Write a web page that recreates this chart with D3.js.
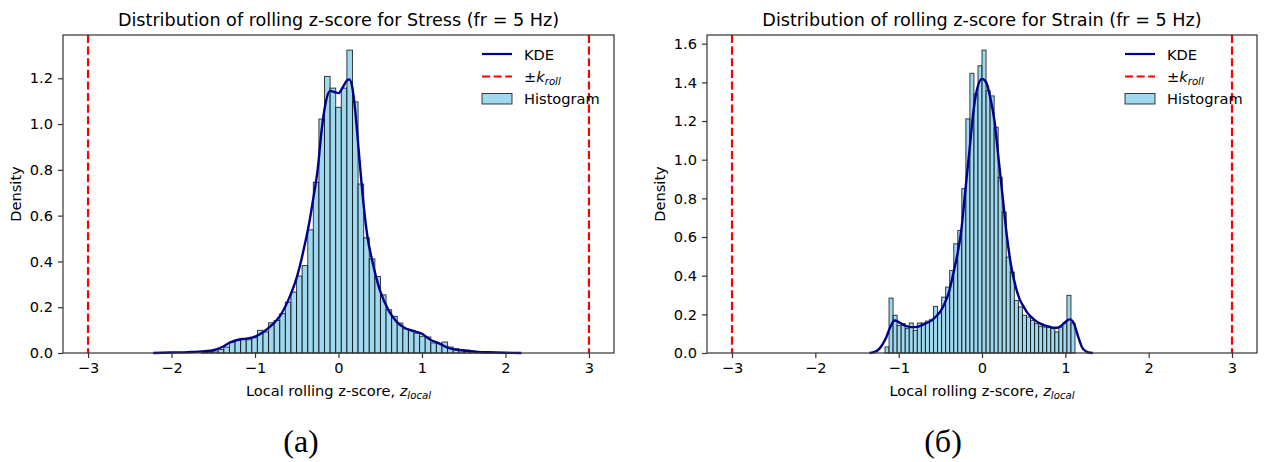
<!DOCTYPE html>
<html>
<head>
<meta charset="utf-8">
<script src="https://cdn.jsdelivr.net/npm/d3@7"></script>
<style>
  html, body { margin: 0; padding: 0; background: #fff; }
  svg { display: block; }
  text { font-family: "DejaVu Sans", sans-serif; fill: #000; }
  text.sub { font-family: "Liberation Serif", "Times New Roman", serif; }
</style>
</head>
<body>
<svg id="chart" width="1265" height="462"></svg>
<script>
// ---------------- DATA ----------------
const xTicks = [-3, -2, -1, 0, 1, 2, 3];
const kRoll = [-3, 3];

// Stress panel
const stressTitle = "Distribution of rolling z-score for Stress (fr = 5 Hz)";
const stressBinStart = -1.6415;
const stressBinWidth = 0.067;
const stressHist = [0.003,0.005,0.009,0.015,0.026,0.048,0.055,0.062,0.058,0.067,0.099,0.092,0.132,0.142,0.172,0.222,0.266,0.336,0.382,0.538,0.746,1.022,1.208,1.157,1.073,1.157,1.323,1.097,0.738,0.503,0.411,0.334,0.254,0.189,0.160,0.131,0.106,0.099,0.087,0.073,0.070,0.044,0.041,0.048,0.026,0.019,0.015,0.012,0.009,0.006,0.004,0.002];
const stressKdeX = [-2.22,-2.0,-1.8,-1.6,-1.5,-1.4,-1.3,-1.2,-1.1,-1.0,-0.9,-0.8,-0.7,-0.6,-0.5,-0.4,-0.35,-0.3,-0.25,-0.2,-0.15,-0.1,-0.05,0.0,0.05,0.1,0.13,0.17,0.2,0.25,0.3,0.35,0.4,0.5,0.6,0.7,0.8,0.9,1.0,1.1,1.2,1.3,1.4,1.5,1.6,1.8,2.0,2.19];
const stressKdeY = [0.0,0.002,0.004,0.008,0.012,0.025,0.046,0.058,0.063,0.072,0.092,0.122,0.162,0.232,0.33,0.48,0.57,0.68,0.8,0.98,1.10,1.145,1.14,1.135,1.16,1.19,1.195,1.15,1.06,0.85,0.65,0.5,0.41,0.27,0.186,0.135,0.108,0.096,0.084,0.058,0.043,0.025,0.015,0.011,0.007,0.003,0.001,0.0];
const stressYMax = 1.389;
const stressYTicks = [0.0,0.2,0.4,0.6,0.8,1.0,1.2];

// Strain panel
const strainTitle = "Distribution of rolling z-score for Strain (fr = 5 Hz)";
const strainBinStart = -1.164;
const strainBinEnd = 1.116;
const strainHist = [0.031,0.284,0.195,0.143,0.152,0.126,0.155,0.117,0.155,0.155,0.165,0.172,0.241,0.207,0.289,0.341,0.427,0.565,0.634,0.85,1.211,1.447,1.34,1.486,1.567,1.357,1.33,1.168,0.909,0.729,0.496,0.418,0.272,0.238,0.195,0.186,0.169,0.152,0.138,0.134,0.134,0.126,0.109,0.134,0.155,0.298,0.155];
const strainKdeX = [-1.35,-1.3,-1.25,-1.2,-1.15,-1.1,-1.05,-1.0,-0.95,-0.9,-0.85,-0.8,-0.75,-0.7,-0.65,-0.6,-0.55,-0.5,-0.45,-0.4,-0.35,-0.3,-0.25,-0.2,-0.15,-0.1,-0.05,0.0,0.05,0.1,0.15,0.2,0.25,0.3,0.35,0.4,0.45,0.5,0.55,0.6,0.65,0.7,0.75,0.8,0.85,0.9,0.95,1.0,1.05,1.08,1.1,1.15,1.2,1.25,1.3,1.33];
const strainKdeY = [0.0,0.004,0.014,0.04,0.08,0.135,0.168,0.16,0.147,0.138,0.134,0.134,0.139,0.148,0.158,0.17,0.19,0.215,0.255,0.31,0.40,0.5,0.63,0.84,1.05,1.26,1.38,1.418,1.40,1.32,1.2,1.0,0.8,0.6,0.45,0.35,0.28,0.24,0.205,0.183,0.165,0.152,0.143,0.137,0.131,0.131,0.141,0.16,0.174,0.168,0.155,0.09,0.03,0.008,0.001,0.0];
const strainYMax = 1.645;
const strainYTicks = [0.0,0.2,0.4,0.6,0.8,1.0,1.2,1.4,1.6];

const subLabels = ["(a)", "(б)"];

// ---------------- DRAW ----------------
const svg = d3.select("#chart");
const fmtX = d3.format("d");
const fmtY = d3.format(".1f");

function buildBins(start, width, heights) {
  return heights.map((h, i) => ({x0: start + i * width, x1: start + (i + 1) * width, h}));
}

const panels = [
  {left: 63, right: 614, title: stressTitle, yMax: stressYMax, yTicks: stressYTicks,
   bins: buildBins(stressBinStart, stressBinWidth, stressHist),
   kde: stressKdeX.map((x, i) => [x, stressKdeY[i]]), sub: subLabels[0], subX: 301},
  {left: 707, right: 1257, title: strainTitle, yMax: strainYMax, yTicks: strainYTicks,
   bins: buildBins(strainBinStart, (strainBinEnd - strainBinStart) / strainHist.length, strainHist),
   kde: strainKdeX.map((x, i) => [x, strainKdeY[i]]), sub: subLabels[1], subX: 943}
];

const axTop = 35, axBottom = 353;

panels.forEach(p => {
  const x = d3.scaleLinear().domain([-3.3, 3.3]).range([p.left, p.right]);
  const y = d3.scaleLinear().domain([0, p.yMax]).range([axBottom, axTop]);
  const g = svg.append("g");

  // histogram bars
  g.append("g").selectAll("rect").data(p.bins).join("rect")
    .attr("x", d => x(d.x0))
    .attr("y", d => y(d.h))
    .attr("width", d => x(d.x1) - x(d.x0))
    .attr("height", d => y(0) - y(d.h))
    .attr("fill", "#87ceeb")
    .attr("fill-opacity", 0.8)
    .attr("stroke", "#000")
    .attr("stroke-opacity", 0.75)
    .attr("stroke-width", 1);

  // KDE
  const line = d3.line().x(d => x(d[0])).y(d => y(d[1])).curve(d3.curveMonotoneX);
  g.append("path").datum(p.kde)
    .attr("d", line)
    .attr("fill", "none")
    .attr("stroke", "#00008b")
    .attr("stroke-width", 2.4);

  // threshold lines
  g.selectAll("line.kr").data(kRoll).join("line")
    .attr("class", "kr")
    .attr("x1", d => x(d)).attr("x2", d => x(d))
    .attr("y1", axTop).attr("y2", axBottom)
    .attr("stroke", "red")
    .attr("stroke-width", 2.2)
    .attr("stroke-dasharray", "8.1,3.5");

  // frame
  g.append("rect")
    .attr("x", p.left).attr("y", axTop)
    .attr("width", p.right - p.left).attr("height", axBottom - axTop)
    .attr("fill", "none").attr("stroke", "#333").attr("stroke-width", 1.2);

  // x axis
  const xa = g.append("g").attr("transform", `translate(0,${axBottom})`)
    .call(d3.axisBottom(x).tickValues(xTicks).tickFormat(d => fmtX(d)).tickSize(5).tickPadding(5));
  xa.select(".domain").remove();
  xa.selectAll("line").attr("stroke", "#333").attr("stroke-width", 1.2);
  xa.selectAll("text").attr("font-size", 14.6).style("font-family", "DejaVu Sans");

  // y axis
  const ya = g.append("g").attr("transform", `translate(${p.left},0)`)
    .call(d3.axisLeft(y).tickValues(p.yTicks).tickFormat(d => fmtY(d)).tickSize(5).tickPadding(5));
  ya.select(".domain").remove();
  ya.selectAll("line").attr("stroke", "#333").attr("stroke-width", 1.2);
  ya.selectAll("text").attr("font-size", 14.6).style("font-family", "DejaVu Sans");

  const cx = (p.left + p.right) / 2;
  // title
  g.append("text").attr("x", cx).attr("y", 26).attr("text-anchor", "middle")
    .attr("font-size", 17.6).text(p.title);

  // x label
  const xl = g.append("text").attr("x", cx).attr("y", 396).attr("text-anchor", "middle")
    .attr("font-size", 14.6);
  xl.append("tspan").text("Local rolling z-score, ");
  xl.append("tspan").attr("font-style", "italic").text("z");
  xl.append("tspan").attr("font-style", "italic").attr("font-size", 10.2).attr("dy", 3).text("local");

  // y label
  g.append("text").attr("transform", `translate(${p.left - 42},${(axTop + axBottom) / 2}) rotate(-90)`)
    .attr("text-anchor", "middle").attr("font-size", 14.6).text("Density");

  // legend
  const lx = p.right - 132;
  const lg = g.append("g");
  lg.append("line").attr("x1", lx).attr("x2", lx + 30).attr("y1", 54).attr("y2", 54)
    .attr("stroke", "#00008b").attr("stroke-width", 2.2);
  lg.append("text").attr("x", lx + 42).attr("y", 59.5).attr("font-size", 14.6).text("KDE");
  lg.append("line").attr("x1", lx).attr("x2", lx + 30).attr("y1", 76.5).attr("y2", 76.5)
    .attr("stroke", "red").attr("stroke-width", 2.2).attr("stroke-dasharray", "8.1,3.5");
  const kt = lg.append("text").attr("x", lx + 42).attr("y", 82).attr("font-size", 14.6);
  kt.append("tspan").text("±");
  kt.append("tspan").attr("font-style", "italic").text("k");
  kt.append("tspan").attr("font-style", "italic").attr("font-size", 10.2).attr("dy", 3).text("roll");
  lg.append("rect").attr("x", lx).attr("y", 93.5).attr("width", 30).attr("height", 10.5)
    .attr("fill", "#87ceeb").attr("fill-opacity", 0.8)
    .attr("stroke", "#000").attr("stroke-opacity", 0.75).attr("stroke-width", 1);
  lg.append("text").attr("x", lx + 42).attr("y", 104).attr("font-size", 14.6).text("Histogram");

  // sub label
  svg.append("text").attr("class", "sub").attr("x", p.subX).attr("y", 452).attr("text-anchor", "middle")
    .attr("font-size", 32).text(p.sub);
});
</script>
</body>
</html>
